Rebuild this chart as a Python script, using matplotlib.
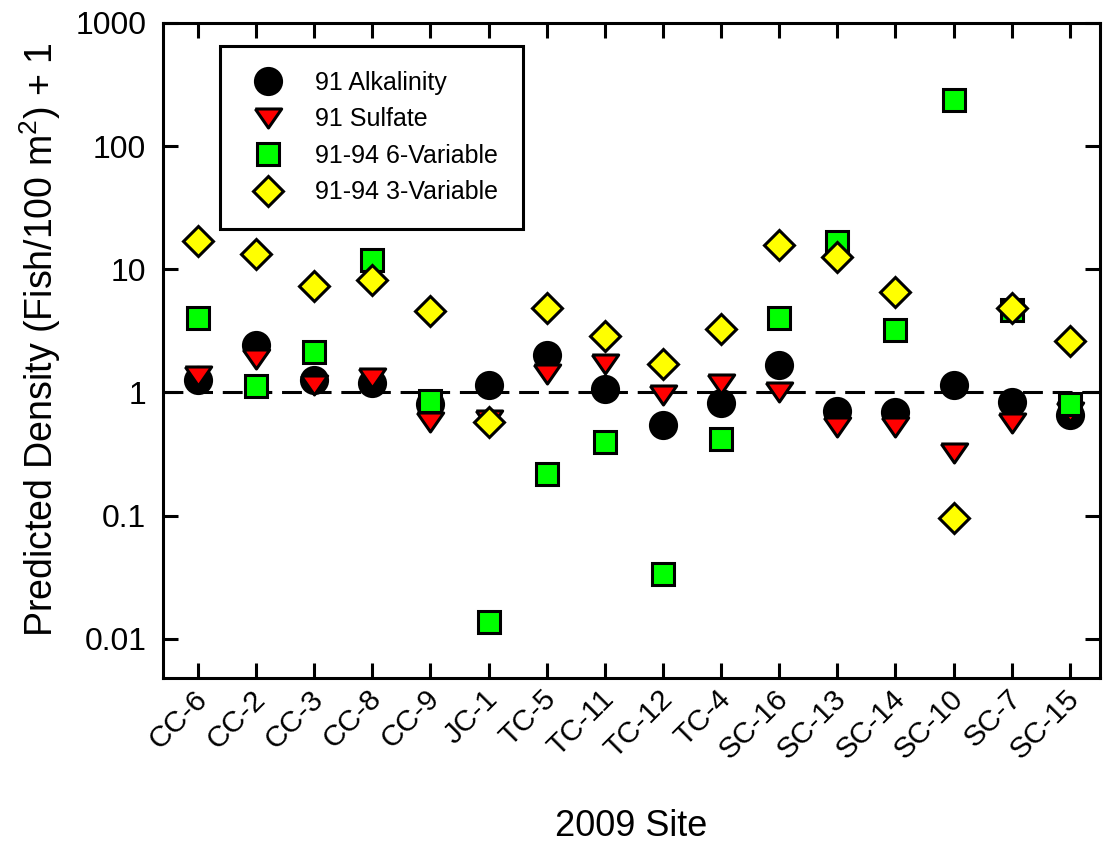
import matplotlib
matplotlib.use('Agg')
import matplotlib.pyplot as plt
import matplotlib.transforms as mtransforms

# predicted density per site
sites = ['CC-6', 'CC-2', 'CC-3', 'CC-8', 'CC-9', 'JC-1', 'TC-5', 'TC-11',
         'TC-12', 'TC-4', 'SC-16', 'SC-13', 'SC-14', 'SC-10', 'SC-7', 'SC-15']
alkalinity = [1.27, 2.45, 1.27, 1.2, 0.81, 1.14, 2.0, 1.06,
              0.547, 0.82, 1.66, 0.705, 0.69, 1.15, 0.835, 0.65]
sulfate = [1.36, 1.88, 1.14, 1.32, 0.574, 0.6, 1.42, 1.71,
           0.96, 1.16, 1.0, 0.523, 0.523, 0.324, 0.568, 0.69]
six_var = [4.03, 1.12, 2.12, 11.8, 0.845, 0.0137, 0.219, 0.395,
           0.0334, 0.42, 4.03, 16.6, 3.22, 238, 4.7, 0.81]
three_var = [17.1, 13.3, 7.38, 8.2, 4.62, 0.574, 4.83, 2.85,
             1.71, 3.28, 15.8, 12.5, 6.51, 0.0964, 4.86, 2.64]
ytick_vals = [0.01, 0.1, 1, 10, 100, 1000]
ytick_labels = ['0.01', '0.1', '1', '10', '100', '1000']

plt.rcParams['font.family'] = ['Liberation Sans', 'DejaVu Sans']
plt.rcParams['mathtext.fontset'] = 'custom'
plt.rcParams['mathtext.rm'] = 'Liberation Sans'
plt.rcParams['mathtext.default'] = 'regular'

fig = plt.figure(figsize=(11.05, 8.42), dpi=100)
ax = fig.add_axes([0.1475, 0.1948, 0.848, 0.7779])

x = list(range(1, len(sites) + 1))
tri = [(-1, 0.72), (1, 0.72), (0, -0.72), (-1, 0.72)]

ax.axhline(1, color='black', lw=2.2, linestyle=(0, (6.5, 3.2)), zorder=1)

ax.plot(x, alkalinity, linestyle='none', marker='o', markersize=19,
        markerfacecolor='black', markeredgecolor='black', markeredgewidth=2,
        label='91 Alkalinity', zorder=3)
ax.plot(x, sulfate, linestyle='none', marker=tri, markersize=19,
        markerfacecolor='#ff0000', markeredgecolor='black', markeredgewidth=2.2,
        label='91 Sulfate', zorder=4)
ax.plot(x, six_var, linestyle='none', marker='s', markersize=15.5,
        markerfacecolor='#00ff00', markeredgecolor='black', markeredgewidth=2.2,
        label='91-94 6-Variable', zorder=5)
ax.plot(x, three_var, linestyle='none', marker='D', markersize=15,
        markerfacecolor='#ffff00', markeredgecolor='black', markeredgewidth=2.2,
        label='91-94 3-Variable', zorder=6)

ax.set_yscale('log')
ax.set_ylim(0.0048, 1000)
ax.set_xlim(0.4, 16.52)
ax.set_yticks(ytick_vals)
ax.set_yticklabels(ytick_labels)
ax.minorticks_off()
ax.set_xticks(x)
ax.set_xticklabels(sites, rotation=45, ha='right', va='center',
                   rotation_mode='anchor')

ax.tick_params(axis='both', which='major', direction='in', length=11, width=2.2,
               labelsize=23, top=True, right=True)
ax.tick_params(axis='x', labelsize=21.5, pad=12)
ax.tick_params(axis='y', pad=12)
# nudge the rotated site labels a little to the right
shift = mtransforms.ScaledTranslation(5 / 100, 0, fig.dpi_scale_trans)
for lbl in ax.get_xticklabels():
    lbl.set_transform(lbl.get_transform() + shift)
for sp in ax.spines.values():
    sp.set_linewidth(2.2)

ax.set_xlabel('2009 Site', fontsize=26)
ax.xaxis.set_label_coords(0.5, -0.2)
ax.set_ylabel('Predicted Density (Fish/100 m$^2$) + 1', fontsize=27)
ax.yaxis.set_label_coords(-0.107, 0.516)

leg = ax.legend(loc='upper left', bbox_to_anchor=(0.061, 0.965), borderaxespad=0,
                fontsize=18, frameon=True, fancybox=False, framealpha=1,
                edgecolor='black', borderpad=1.0, labelspacing=0.5,
                handlelength=1.85, handletextpad=0.95, numpoints=1)
leg.get_frame().set_linewidth(2.2)

fig.savefig('out.png', dpi=100)
